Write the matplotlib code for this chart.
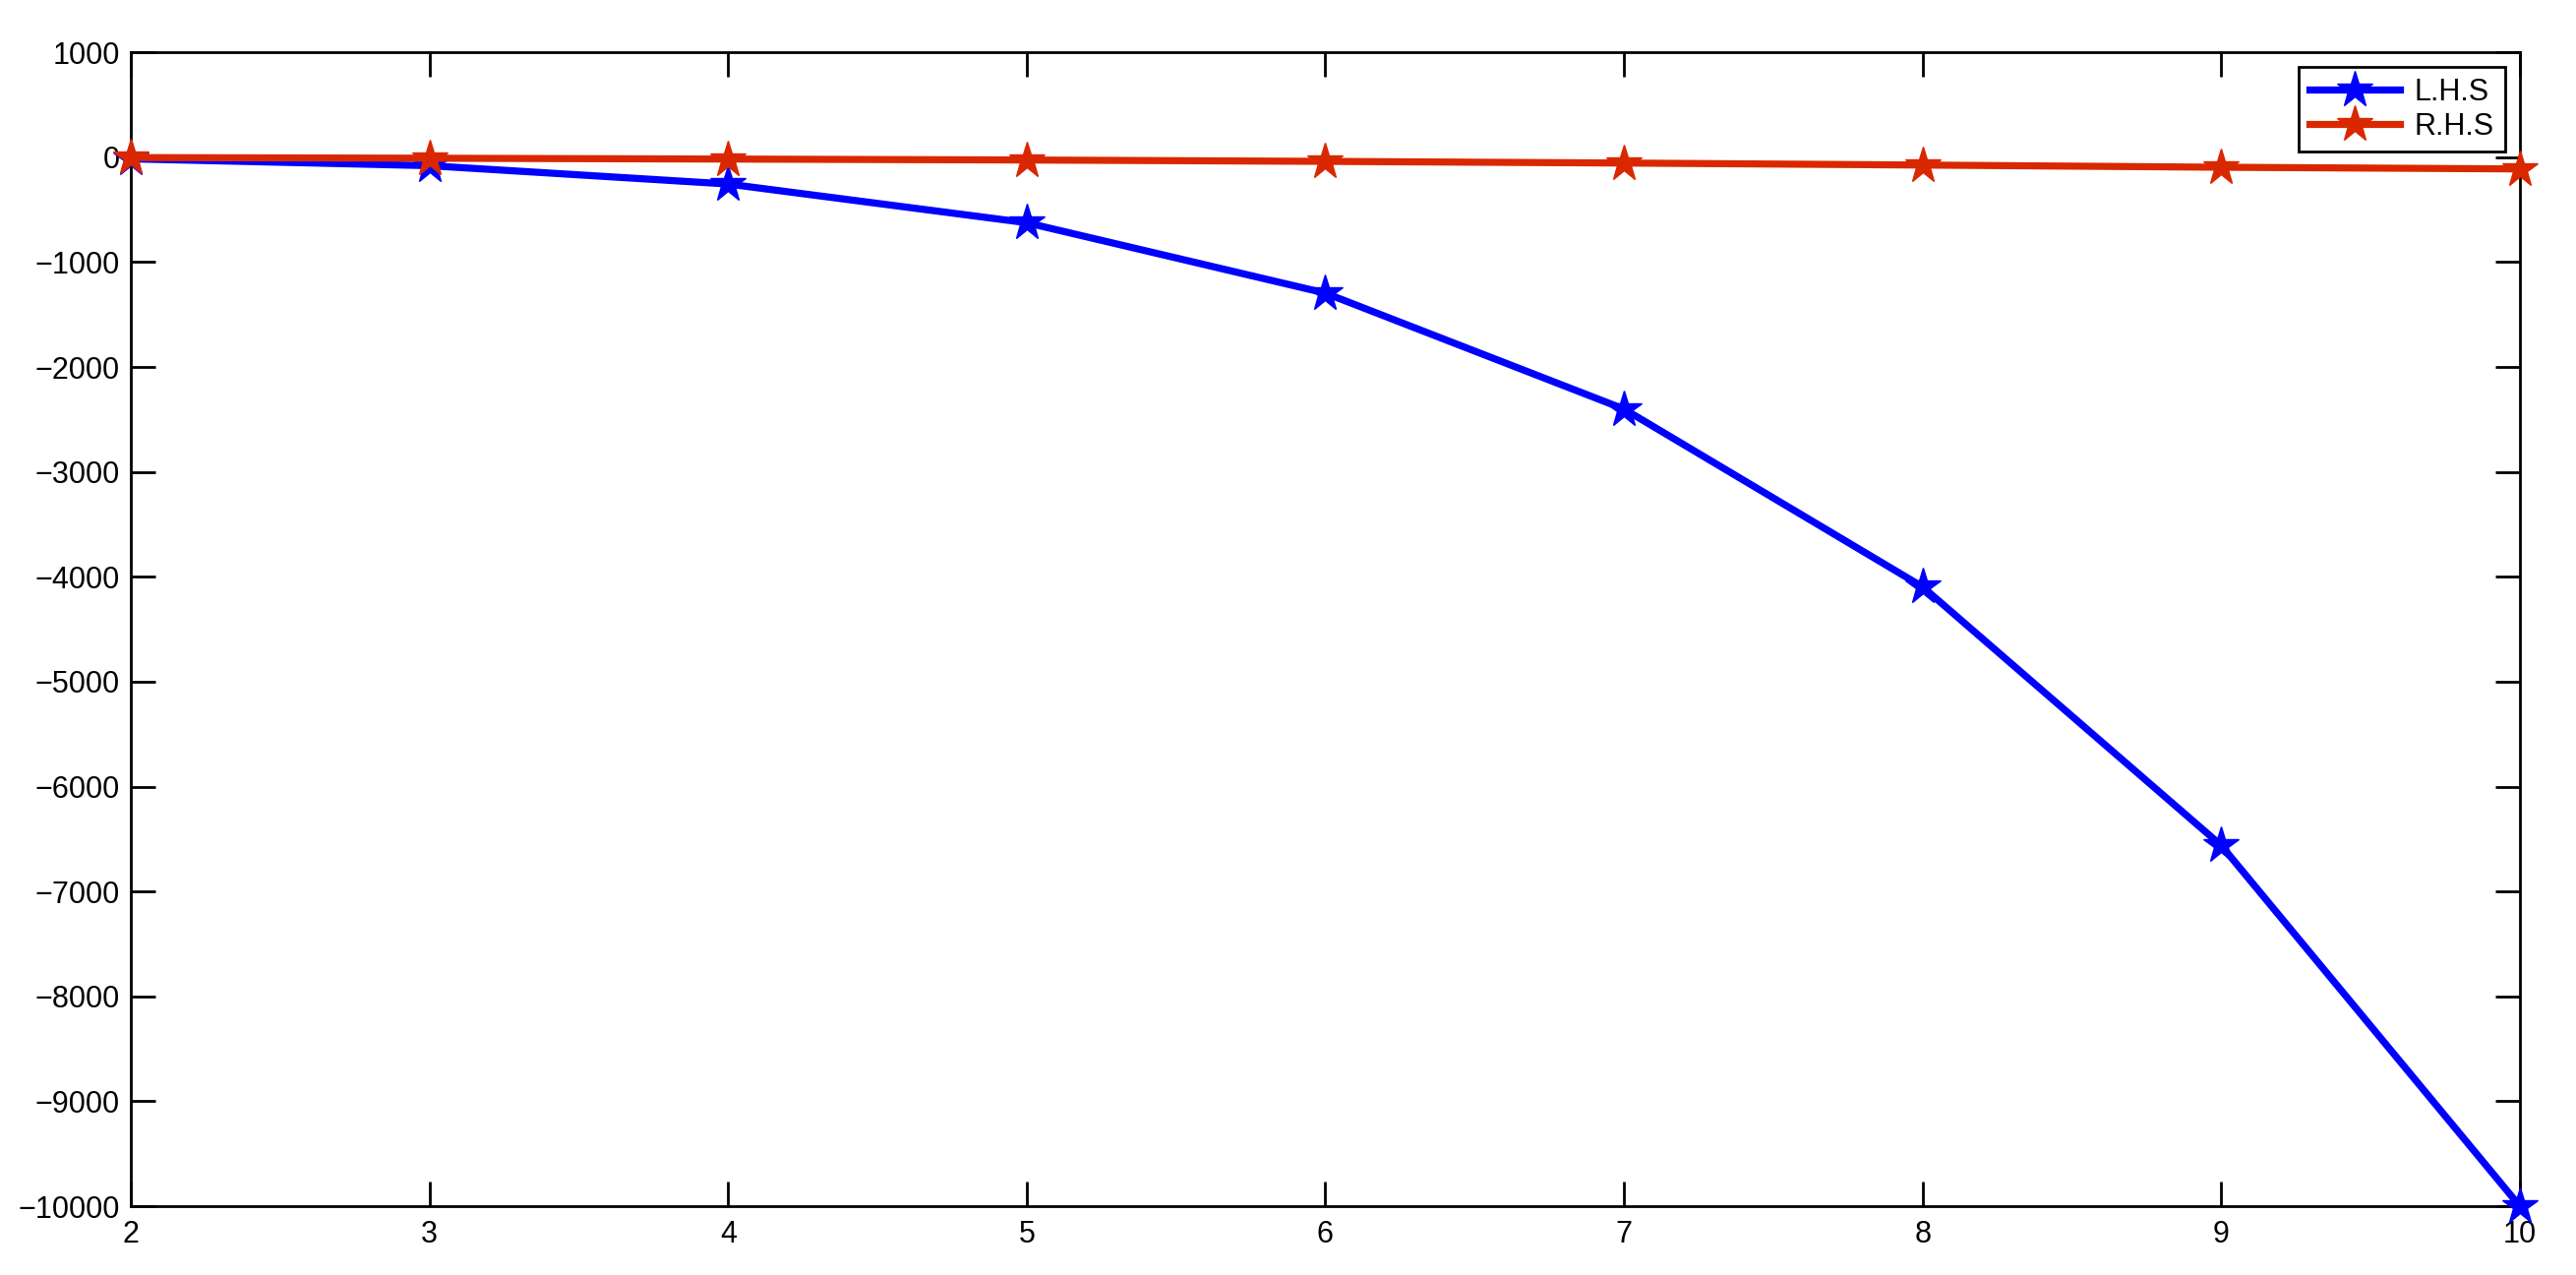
import matplotlib
matplotlib.use("Agg")
import matplotlib.pyplot as plt
import numpy as np

# data
n = [2, 3, 4, 5, 6, 7, 8, 9, 10]
lhs = [-16, -81, -256, -625, -1296, -2401, -4096, -6561, -10000]
rhs = [-4, -10, -18, -27, -40, -56, -75, -96, -112]

plt.rcParams['font.family'] = ['Liberation Sans', 'DejaVu Sans']

fig = plt.figure(figsize=(26.19, 12.96), dpi=100)
ax = fig.add_axes([0.0508, 0.054, 0.9274, 0.905])

ax.plot(n, lhs, color='#0000ff', linewidth=5.2, marker='*', markersize=28,
        clip_on=False, label='L.H.S', zorder=3)
ax.plot(n, rhs, color='#d92800', linewidth=5.2, marker='*', markersize=28,
        clip_on=False, label='R.H.S', zorder=4)

ax.set_xlim(2, 10)
ax.set_ylim(-10000, 1000)
ax.set_xticks(n)
ax.set_yticks(np.arange(-10000, 1001, 1000))

ax.tick_params(direction='in', length=18, width=2, labelsize=22,
               top=True, right=True, pad=8)
ax.tick_params(axis='x', pad=10)
for s in ax.spines.values():
    s.set_linewidth(2)

leg = ax.legend(loc='upper right', fontsize=22, handlelength=3.0,
                fancybox=False, framealpha=1, edgecolor='black',
                borderaxespad=0.5, labelspacing=0.15, borderpad=0.35,
                handletextpad=0.5)
leg.get_frame().set_linewidth(2)

fig.savefig('out.png', dpi=100)
